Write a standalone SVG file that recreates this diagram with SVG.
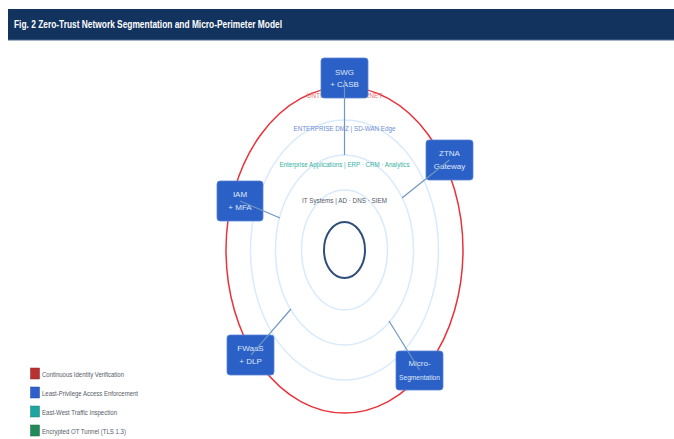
<svg xmlns="http://www.w3.org/2000/svg" width="674" height="439" viewBox="0 0 674 439">
<style>
  text { font-family: "Liberation Sans", Arial, sans-serif; }
  .title { fill: #ffffff; font-size: 10.5px; font-weight: bold; }
  .ring { fill: none; stroke: #d8eafc; stroke-width: 1.5; }
  .node rect { fill: #2b60c6; stroke: #5c84d6; stroke-width: 0.8; }
  .node text { fill: #dfe8f8; font-size: 8px; text-anchor: middle; }
  .conn line { stroke: #6f97c2; stroke-width: 1.2; }
  .zl { font-size: 8px; text-anchor: middle; }
  .lg { fill: #555c66; font-size: 7.5px; }
</style>
<rect x="0" y="0" width="674" height="439" fill="#ffffff"/>
<g id="title">
  <rect x="8" y="9" width="666" height="31" fill="#13335f"/>
  <line x1="8" y1="40" x2="674" y2="40" stroke="#4a6a94" stroke-width="1"/>
  <text class="title" x="14" y="28" textLength="268" lengthAdjust="spacingAndGlyphs">Fig. 2  Zero-Trust Network Segmentation and Micro-Perimeter Model</text>
</g>
<g id="zones">
  <ellipse cx="344.5" cy="250" rx="118.5" ry="163" fill="none" stroke="#e8333a" stroke-width="1.5"/>
  <ellipse class="ring" cx="344.5" cy="250" rx="94" ry="130"/>
  <ellipse class="ring" cx="344.5" cy="250" rx="69" ry="95"/>
  <ellipse class="ring" cx="344.5" cy="250" rx="43" ry="60"/>
  <ellipse cx="344.5" cy="250" rx="20.5" ry="28" fill="none" stroke="#2f4f7a" stroke-width="2"/>
  <text class="zl" x="344.5" y="98" fill="#e57373" textLength="76" lengthAdjust="spacingAndGlyphs">UNTRUSTED INTERNET</text>
  <text class="zl" x="344.5" y="131" fill="#6a8cd4" textLength="102" lengthAdjust="spacingAndGlyphs">ENTERPRISE DMZ  |  SD-WAN Edge</text>
  <text class="zl" x="344.5" y="166.5" fill="#36b0a4" textLength="130" lengthAdjust="spacingAndGlyphs">Enterprise Applications  |  ERP · CRM · Analytics</text>
  <text class="zl" x="344.5" y="202.5" fill="#525a68" textLength="85" lengthAdjust="spacingAndGlyphs">IT Systems  |  AD · DNS · SIEM</text>
</g>
<g id="n-swg" class="node">
  <rect x="321" y="58" width="47" height="40" rx="3"/>
  <text x="344.5" y="74.5">SWG</text>
  <text x="344.5" y="87">+ CASB</text>
</g>
<g id="n-ztna" class="node">
  <rect x="426" y="140" width="47" height="40" rx="3"/>
  <text x="449.5" y="156">ZTNA</text>
  <text x="449.5" y="168.5">Gateway</text>
</g>
<g id="n-iam" class="node">
  <rect x="217" y="181" width="46" height="40" rx="3"/>
  <text x="240" y="197">IAM</text>
  <text x="240" y="210">+ MFA</text>
</g>
<g id="n-fwaas" class="node">
  <rect x="227" y="335" width="47" height="40" rx="3"/>
  <text x="250.5" y="350.5">FWaaS</text>
  <text x="250.5" y="364">+ DLP</text>
</g>
<g id="n-micro" class="node">
  <rect x="396" y="351" width="47" height="39" rx="3"/>
  <text x="419.5" y="366">Micro-</text>
  <text x="419.5" y="379.5" textLength="41" lengthAdjust="spacingAndGlyphs">Segmentation</text>
</g>
<g id="connectors" class="conn">
  <line x1="344.5" y1="80" x2="344.5" y2="155"/>
  <line x1="449.5" y1="160" x2="402" y2="198"/>
  <line x1="240" y1="201" x2="280" y2="218"/>
  <line x1="251" y1="355" x2="291" y2="309"/>
  <line x1="419.5" y1="370" x2="389" y2="321"/>
</g>
<g id="legend">
  <rect x="30.5" y="368" width="9" height="11" fill="#b83232" stroke="#8e2424" stroke-width="0.5"/>
  <text class="lg" x="42" y="376.5" textLength="82" lengthAdjust="spacingAndGlyphs">Continuous Identity Verification</text>
  <rect x="30.5" y="387" width="9" height="11" fill="#2e5fcc" stroke="#234a9e" stroke-width="0.5"/>
  <text class="lg" x="42" y="395.5" textLength="96" lengthAdjust="spacingAndGlyphs">Least-Privilege Access Enforcement</text>
  <rect x="30.5" y="406" width="9" height="11" fill="#1fa5a0" stroke="#18807c" stroke-width="0.5"/>
  <text class="lg" x="42" y="414.5" textLength="75" lengthAdjust="spacingAndGlyphs">East-West Traffic Inspection</text>
  <rect x="30.5" y="425" width="9" height="11" fill="#22895a" stroke="#1a6a45" stroke-width="0.5"/>
  <text class="lg" x="42" y="433.5" textLength="84" lengthAdjust="spacingAndGlyphs">Encrypted OT Tunnel (TLS 1.3)</text>
</g>
</svg>
